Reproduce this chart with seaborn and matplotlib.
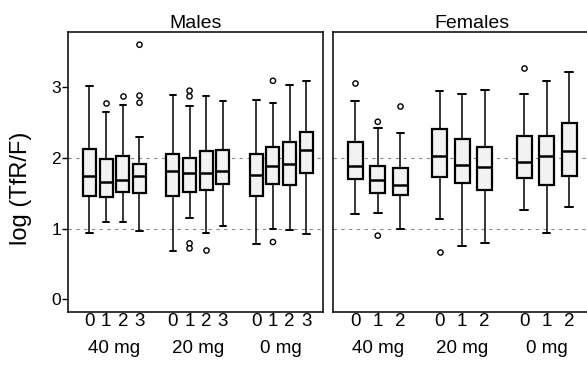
import numpy as np
import pandas as pd
import matplotlib
matplotlib.use("Agg")
import matplotlib.pyplot as plt
import seaborn as sns

# ---------------- data ----------------
doses = ["40 mg", "20 mg", "0 mg"]
male_times = ["0", "1", "2", "3"]
female_times = ["0", "1", "2"]

# five-number summaries (whisker low, Q1, median, Q3, whisker high), dose-major order
male_lo = [0.94, 1.09, 1.09, 0.97, 0.68, 1.15, 0.94, 1.03, 0.78, 1.00, 0.98, 0.92]
male_q1 = [1.46, 1.45, 1.52, 1.50, 1.46, 1.52, 1.55, 1.63, 1.46, 1.63, 1.62, 1.78]
male_med = [1.74, 1.66, 1.68, 1.74, 1.81, 1.78, 1.78, 1.82, 1.76, 1.89, 1.91, 2.11]
male_q3 = [2.13, 1.99, 2.02, 1.92, 2.06, 2.00, 2.09, 2.11, 2.05, 2.16, 2.23, 2.36]
male_hi = [3.01, 2.65, 2.75, 2.29, 2.89, 2.73, 2.88, 2.80, 2.82, 2.77, 3.03, 3.09]

male_out_dose = ["40 mg", "40 mg", "40 mg", "40 mg", "40 mg",
                 "20 mg", "20 mg", "20 mg", "20 mg", "20 mg",
                 "0 mg", "0 mg"]
male_out_time = ["1", "2", "3", "3", "3",
                 "1", "1", "1", "1", "2",
                 "1", "1"]
male_out_value = [2.78, 2.87, 3.60, 2.88, 2.78,
                  2.95, 2.87, 0.79, 0.72, 0.69,
                  3.09, 0.81]

female_lo = [1.20, 1.22, 1.00, 1.14, 0.75, 0.80, 1.26, 0.94, 1.31]
female_q1 = [1.70, 1.51, 1.47, 1.73, 1.64, 1.54, 1.71, 1.62, 1.74]
female_med = [1.88, 1.68, 1.62, 2.02, 1.90, 1.87, 1.94, 2.03, 2.09]
female_q3 = [2.23, 1.88, 1.85, 2.41, 2.26, 2.15, 2.31, 2.31, 2.50]
female_hi = [2.81, 2.42, 2.35, 2.95, 2.91, 2.96, 2.90, 3.08, 3.22]

female_out_dose = ["40 mg", "40 mg", "40 mg", "40 mg", "20 mg", "0 mg"]
female_out_time = ["0", "1", "1", "2", "0", "0"]
female_out_value = [3.06, 2.51, 0.90, 2.73, 0.67, 3.27]

y_ticks = [0, 1, 2, 3]
ref_levels = [1, 2]
panel_titles = ["Males", "Females"]
y_label = "log (TfR/F)"


def box_frame(times, lo, q1, med, q3, hi):
    rows = []
    i = 0
    for d in doses:
        for t in times:
            for v in (lo[i], q1[i], med[i], q3[i], hi[i]):
                rows.append((d, t, v))
            i += 1
    return pd.DataFrame(rows, columns=["dose", "time", "value"])


male_df = box_frame(male_times, male_lo, male_q1, male_med, male_q3, male_hi)
female_df = box_frame(female_times, female_lo, female_q1, female_med, female_q3, female_hi)
male_out = pd.DataFrame({"dose": male_out_dose, "time": male_out_time, "value": male_out_value})
female_out = pd.DataFrame({"dose": female_out_dose, "time": female_out_time, "value": female_out_value})

# ---------------- styling ----------------
sns.set_theme(style="white")
plt.rcParams["font.family"] = ["Liberation Sans", "DejaVu Sans"]

W, H = 587, 365
fig = plt.figure(figsize=(W / 100, H / 100), dpi=100)
axm = fig.add_axes([68 / W, 53 / H, 255 / W, 280 / H])
axf = fig.add_axes([333 / W, 53 / H, 277 / W, 280 / H])

panels = [
    (axm, male_df, male_out, male_times, 0.22, (-0.557, 2.50)),
    (axf, female_df, female_out, female_times, 0.33, (-0.53, 2.75)),
]

for k, (ax, df, out, times, gap, xlim) in enumerate(panels):
    for lv in ref_levels:
        ax.axhline(lv, color="#8a8a8a", lw=0.8, ls=(0, (3, 4)), zorder=0)
    sns.boxplot(
        data=df, x="dose", y="value", hue="time",
        order=doses, hue_order=times,
        whis=(0, 100), showfliers=False,
        width=0.8, gap=gap,
        palette={t: "#f2f2f2" for t in times},
        linecolor="black", linewidth=1.6,
        whiskerprops=dict(linewidth=1.1),
        capprops=dict(linewidth=1.4),
        medianprops=dict(linewidth=1.8),
        legend=False, ax=ax, zorder=2,
    )
    sns.stripplot(
        data=out, x="dose", y="value", hue="time",
        order=doses, hue_order=times,
        dodge=True, jitter=False,
        palette={t: "white" for t in times},
        edgecolor="black", linewidth=1.0, size=3.8,
        legend=False, ax=ax, zorder=3,
    )

    # box centres from drawn artists -> minor tick labels (times)
    centers = sorted(
        (p.get_path().get_extents().x0 + p.get_path().get_extents().x1) / 2
        for p in ax.patches
    )
    ax.xaxis.remove_overlapping_locs = False
    ax.set_xticks(range(len(doses)))
    ax.set_xticklabels(doses)
    ax.set_xticks(centers, minor=True)
    ax.set_xticklabels([t for _ in doses for t in times], minor=True)
    ax.tick_params(axis="x", which="both", length=0, labelsize=13.5, colors="black")
    ax.tick_params(axis="x", which="major", pad=20)
    ax.tick_params(axis="x", which="minor", pad=1)

    ax.set_xlim(*xlim)
    ax.set_ylim(-0.18, 3.78)
    ax.set_xlabel("")
    ax.set_title(panel_titles[k], fontsize=14, pad=3, color="black")
    for s in ax.spines.values():
        s.set_visible(True)
        s.set_color("black")
        s.set_linewidth(1.1)

axm.set_yticks(y_ticks)
axm.tick_params(axis="y", length=4, width=1, direction="out", pad=1,
                labelsize=12.5, colors="black", left=True)
axm.set_ylabel(y_label, fontsize=17, color="black")
axm.yaxis.set_label_coords(-0.141, 0.44)

axf.set_yticks([])
axf.set_ylabel("")

fig.savefig("out.png", dpi=100)
